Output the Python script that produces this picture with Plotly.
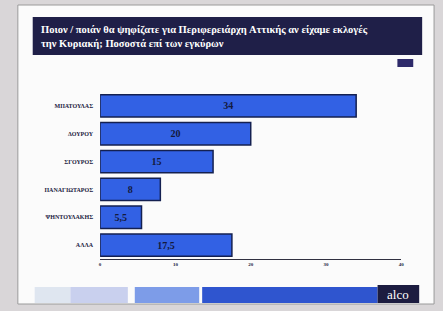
import plotly.graph_objects as go

categories = ["ΜΠΑΤΟΥΛΑΣ", "ΔΟΥΡΟΥ", "ΣΓΟΥΡΟΣ", "ΠΑΝΑΓΙΩΤΑΡΟΣ", "ΨΗΝΤΟΥΛΑΚΗΣ", "ΑΛΛΑ"]
values = [34, 20, 15, 8, 5.5, 17.5]
value_labels = ["34", "20", "15", "8", "5,5", "17,5"]
x_ticks = [0, 10, 20, 30, 40]
title_text = ("<b>Ποιον / ποιάν θα ψηφίζατε για Περιφερειάρχη Αττικής αν είχαμε εκλογές<br>"
              "την Κυριακή; Ποσοστά επί των εγκύρων</b>")

W, H = 443, 311
def px(x): return x / W
def py(y): return 1 - y / H

fig = go.Figure()
fig.add_trace(go.Bar(
    y=categories, x=values, orientation="h",
    text=["<b>%s</b>" % t for t in value_labels], textposition="inside", insidetextanchor="middle",
    textfont=dict(family="Liberation Serif", size=10, color="#141a3c"),
    marker=dict(color="#3261e4", line=dict(color="#142050", width=1.5)),
    width=0.8, hoverinfo="skip",
))

shapes = [
    dict(type="rect", xref="paper", yref="paper", x0=px(17), x1=px(437), y0=py(304), y1=py(5),
         fillcolor="#fbfbfb", line=dict(color="#9a9a9a", width=1), layer="below"),
    dict(type="rect", xref="paper", yref="paper", x0=px(32), x1=px(425), y0=py(55), y1=py(17),
         fillcolor="#1f1f48", line=dict(width=0), layer="below"),
    dict(type="rect", xref="paper", yref="paper", x0=px(400), x1=px(416), y0=py(67), y1=py(59),
         fillcolor="#2e2a6a", line=dict(width=0), layer="below"),
    dict(type="rect", xref="paper", yref="paper", x0=px(34), x1=px(70), y0=py(303), y1=py(287),
         fillcolor="#dfe6f0", line=dict(width=0), layer="below"),
    dict(type="rect", xref="paper", yref="paper", x0=px(70), x1=px(128), y0=py(303), y1=py(287),
         fillcolor="#c9d0ee", line=dict(width=0), layer="below"),
    dict(type="rect", xref="paper", yref="paper", x0=px(135), x1=px(200), y0=py(303), y1=py(287),
         fillcolor="#7d9ce8", line=dict(width=0), layer="below"),
    dict(type="rect", xref="paper", yref="paper", x0=px(203), x1=px(380), y0=py(303), y1=py(287),
         fillcolor="#2f55cf", line=dict(width=0), layer="below"),
    dict(type="rect", xref="paper", yref="paper", x0=px(380), x1=px(422), y0=py(303), y1=py(285),
         fillcolor="#1c1c40", line=dict(width=0), layer="below"),
]

annotations = [
    dict(text=title_text, xref="paper", yref="paper", x=px(38), y=py(22), xanchor="left", yanchor="top",
         showarrow=False, align="left",
         font=dict(family="Liberation Serif", size=10.5, color="#ffffff")),
    dict(text="alco", xref="paper", yref="paper", x=px(401), y=py(294), xanchor="center", yanchor="middle",
         showarrow=False, font=dict(family="Liberation Serif", size=13, color="#ffffff")),
]

fig.update_layout(
    width=W, height=H,
    margin=dict(l=0, r=0, t=0, b=0),
    paper_bgcolor="#d9d6d8", plot_bgcolor="rgba(0,0,0,0)",
    showlegend=False,
    shapes=shapes, annotations=annotations,
    xaxis=dict(domain=[px(100), px(404)], range=[0, 40], tickvals=x_ticks,
               ticktext=["<b>%d</b>" % v for v in x_ticks], showgrid=False, zeroline=False,
               showline=True, linecolor="#303040", linewidth=1, fixedrange=True,
               tickfont=dict(family="Liberation Serif", size=5, color="#202040")),
    yaxis=dict(domain=[py(259), py(92)], autorange="reversed", showgrid=False, zeroline=False,
               showline=False, ticks="", ticklabelstandoff=6, fixedrange=True,
               tickvals=categories, ticktext=["<b>%s</b>" % c for c in categories],
               tickfont=dict(family="Liberation Serif", size=6, color="#202040")),
)

fig.write_html("out.html", config={"displayModeBar": False},
               post_script="document.body.style.margin='0';document.body.style.overflow='hidden';")
